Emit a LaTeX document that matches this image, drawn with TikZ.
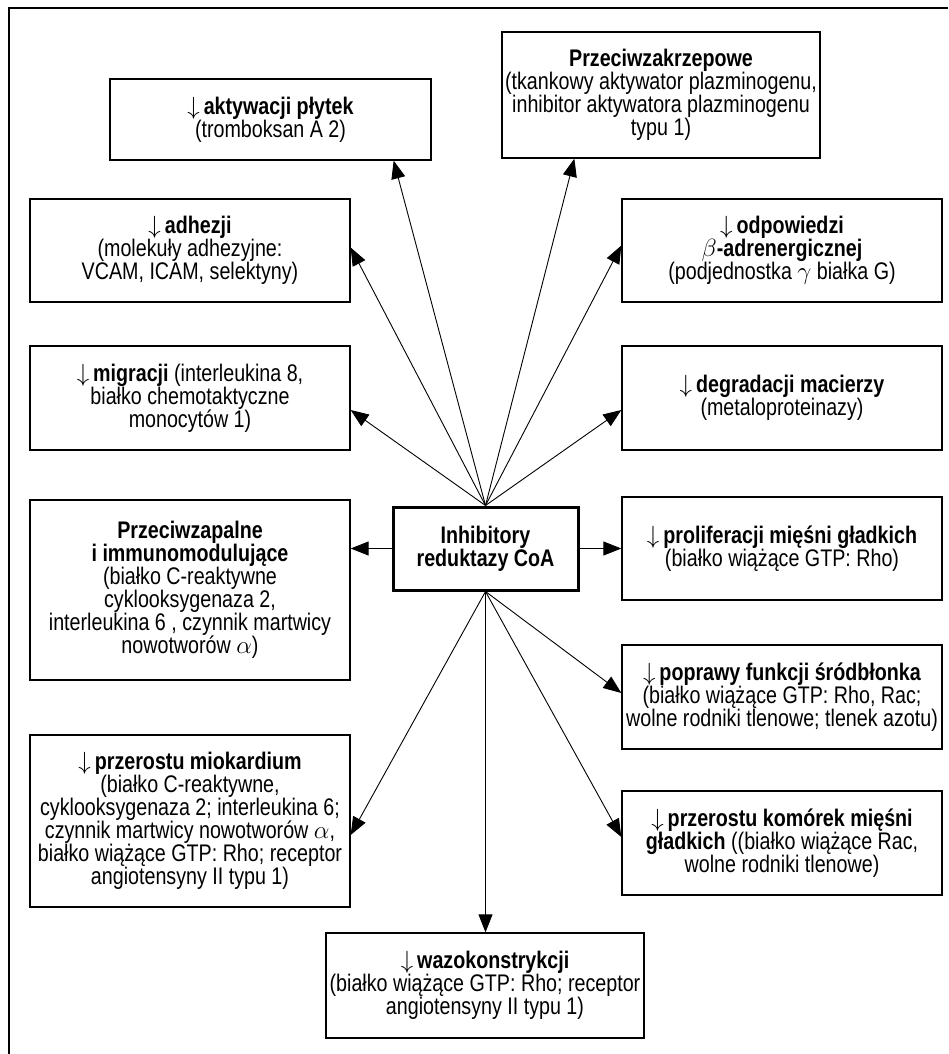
\documentclass[tikz,border=0pt]{standalone}
\usepackage{fontspec}
\setmainfont{Liberation Sans}[FakeStretch=0.82]
\usetikzlibrary{arrows.meta,calc}
\newcommand{\fsz}{\fontsize{24}{23}\selectfont}
\newcommand{\dn}{$\downarrow$\,}
\tikzset{
  box/.style={draw, line width=1.3pt, align=center, inner sep=0pt, font=\fsz},
  mainbox/.style={box, line width=3pt},
  conn/.style={line width=0.9pt, -{Triangle[length=18pt,width=14pt]}},
  frame/.style={line width=2pt}
}
\begin{document}
\begin{tikzpicture}[x=1pt,y=-1pt]
\useasboundingbox (0,0) rectangle (948,1054);
\draw[frame] (9,1054) -- (9,8) -- (948,8);

\node[box, minimum width=321pt, minimum height=81pt] (akt) at (270.5,119.5)
  {\dn\textbf{aktywacji płytek}\\(tromboksan A 2)};
\node[box, minimum width=318pt, minimum height=126pt] (prz) at (661,95)
  {\textbf{Przeciwzakrzepowe}\\(tkankowy aktywator plazminogenu,\\inhibitor aktywatora plazminogenu\\typu 1)};
\node[box, minimum width=320pt, minimum height=103pt] (adh) at (190,250.5)
  {\dn\textbf{adhezji}\\(molekuły adhezyjne:\\VCAM, ICAM, selektyny)};
\node[box, minimum width=320pt, minimum height=103pt] (odp) at (782,250.5)
  {\dn\textbf{odpowiedzi}\\\textbf{$\beta$-adrenergicznej}\\(podjednostka $\gamma$ białka G)};
\node[box, minimum width=320pt, minimum height=104pt] (mig) at (190,398)
  {\dn\textbf{migracji} (interleukina 8,\\białko chemotaktyczne\\monocytów 1)};
\node[box, minimum width=320pt, minimum height=104pt] (deg) at (782,398)
  {\dn\textbf{degradacji macierzy}\\(metaloproteinazy)};
\node[box, minimum width=320pt, minimum height=180pt] (zap) at (190,590)
  {\textbf{Przeciwzapalne}\\\textbf{i immunomodulujące}\\(białko C-reaktywne\\cyklooksygenaza 2,\\interleukina 6 , czynnik martwicy\\nowotworów $\alpha$)};
\node[mainbox, minimum width=185pt, minimum height=83pt] (inh) at (485.5,548.5)
  {\textbf{Inhibitory}\\\textbf{reduktazy CoA}};
\node[box, minimum width=320pt, minimum height=103pt] (pro) at (782,548.5)
  {\dn\textbf{proliferacji mięśni gładkich}\\(białko wiążące GTP: Rho)};
\node[box, minimum width=320pt, minimum height=104pt] (pop) at (782,697)
  {\dn\textbf{poprawy funkcji śródbłonka}\\(białko wiążące GTP: Rho, Rac;\\wolne rodniki tlenowe; tlenek azotu)};
\node[box, minimum width=320pt, minimum height=172pt] (mio) at (190,821)
  {\dn\textbf{przerostu miokardium}\\(białko C-reaktywne,\\cyklooksygenaza 2; interleukina 6;\\czynnik martwicy nowotworów $\alpha$,\\białko wiążące GTP: Rho; receptor\\angiotensyny II typu 1)};
\node[box, minimum width=320pt, minimum height=104pt] (kom) at (782,843)
  {\dn\textbf{przerostu komórek mięśni}\\\textbf{gładkich} ((białko wiążące Rac,\\wolne rodniki tlenowe)};
\node[box, minimum width=318pt, minimum height=105pt] (waz) at (485,985.5)
  {\dn\textbf{wazokonstrykcji}\\(białko wiążące GTP: Rho; receptor\\angiotensyny II typu 1)};

\draw[conn] (inh.north) -- ([xshift=-38pt]akt.south east);
\draw[conn] (inh.north) -- ([xshift=73pt]prz.south west);
\draw[conn] (inh.north) -- ([yshift=3pt]adh.east);
\draw[conn] (inh.north) -- ([yshift=5pt]odp.west);
\draw[conn] (inh.north) -- ([yshift=-12pt]mig.east);
\draw[conn] (inh.north) -- ([yshift=-12pt]deg.west);
\draw[conn] (inh.west) -- (inh.west -| zap.east);
\draw[conn] (inh.east) -- (inh.east -| pro.west);
\draw[conn] (inh.south) -- ([yshift=4pt]pop.west);
\draw[conn] (inh.south) -- ([yshift=6pt]kom.west);
\draw[conn] (inh.south) -- ([yshift=-14pt]mio.east);
\draw[conn] (inh.south) -- (inh.south |- waz.north);
\end{tikzpicture}
\end{document}
